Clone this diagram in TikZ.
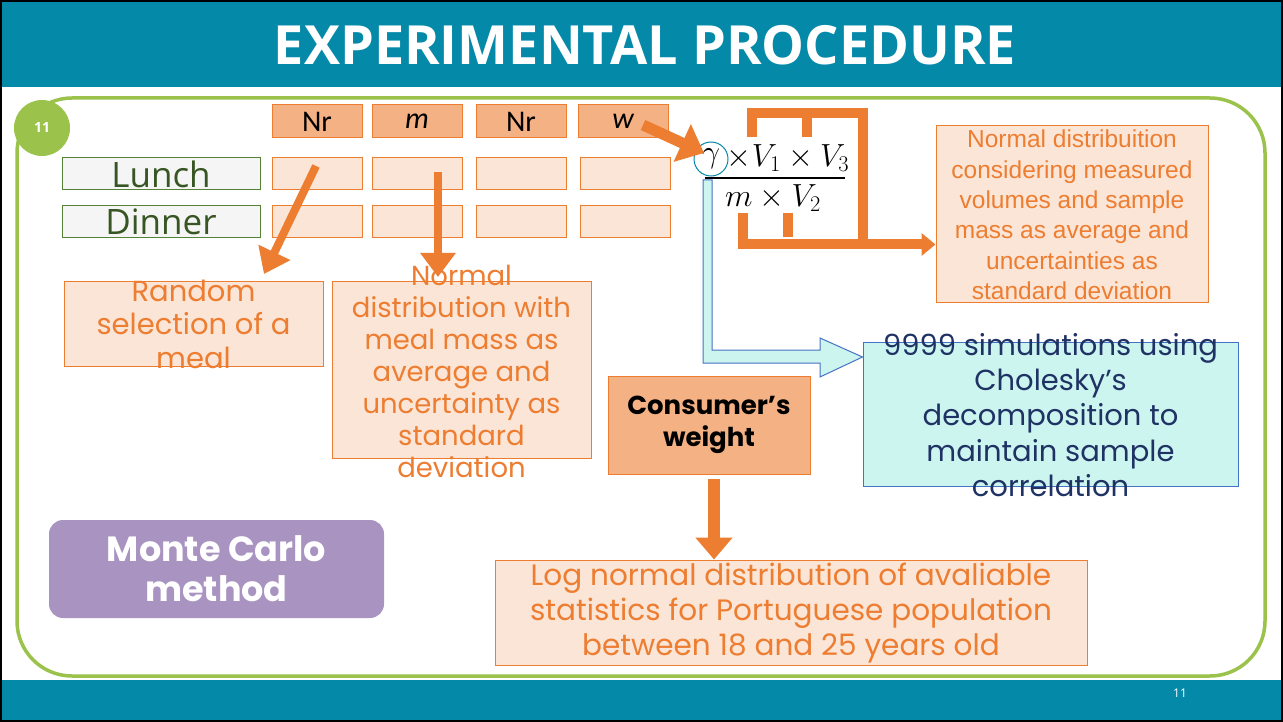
\RequirePackage{fix-cm}
\documentclass[tikz,border=0pt]{standalone}
\usepackage{fontspec}
\usetikzlibrary{arrows.meta,calc}
\newfontfamily\pop{Poppins}
\newfontfamily\osans{Open Sans}
\newfontfamily\carl{Carlito}
\newfontfamily\lib{Liberation Sans}
\definecolor{teal}{RGB}{5,137,168}
\definecolor{lgreen}{RGB}{155,195,75}
\definecolor{dgreen}{RGB}{84,130,53}
\definecolor{tgreen}{RGB}{55,86,35}
\definecolor{orng}{RGB}{237,125,49}
\definecolor{orngL}{RGB}{251,229,214}
\definecolor{orngM}{RGB}{244,177,131}
\definecolor{purp}{RGB}{169,148,193}
\definecolor{cyanL}{RGB}{205,245,240}
\definecolor{blueB}{RGB}{68,114,196}
\definecolor{navy}{RGB}{31,50,100}
\begin{document}
\begin{tikzpicture}[x=1pt,y=-1pt,
  hdr/.style={draw=orng,fill=orngM,line width=1pt,minimum width=90pt,minimum height=33pt,inner sep=0pt,font=\carl\fontsize{30}{32}\selectfont},
  cell/.style={draw=orng,fill=orngL,line width=1pt,minimum width=90pt,minimum height=32pt,inner sep=0pt},
  lbl/.style={draw=dgreen,fill=black!4,line width=1pt,minimum width=198pt,minimum height=32pt,inner sep=0pt,text=tgreen,font=\osans\fontsize{35}{36}\selectfont},
  obox/.style={draw=orng,fill=orngL,line width=1pt,inner sep=0pt},
  otext/.style={inner sep=0pt,text=orng,align=center},
  oarrow/.style={draw=orng,line width=8pt,-{Triangle[length=24pt,width=34pt]}},
  brk/.style={draw=orng,line width=10pt},
]
\useasboundingbox (0,0) rectangle (1283,722);
\fill[white] (0,0) rectangle (1283,722);
\fill[teal] (0,0) rectangle (1283,87);
\fill[teal] (0,680) rectangle (1283,722);
\draw[black,line width=2pt] (1,1) rectangle (1282,721);
\node[text=white,font=\osans\bfseries\fontsize{54}{60}\selectfont] (title) at (645,45) {EXPERIMENTAL PROCEDURE};
\node[text=white,font=\osans\fontsize{12}{14}\selectfont] (pg) at (1180,693) {11};

\draw[lgreen,line width=3.5pt,rounded corners=55pt] (17,98) rectangle (1265,676);
\node[circle,fill=lgreen,minimum size=56pt,inner sep=0pt,text=white,font=\osans\bfseries\fontsize{14}{16}\selectfont] (num) at (42,128) {11};

% header row
\node[hdr] (h1) at (317,121.5) {Nr};
\node[hdr] (h2) at (417,121.5) {\itshape m};
\node[hdr] (h3) at (521,121.5) {Nr};
\node[hdr] (h4) at (623,121.5) {\itshape w};
% rows
\node[lbl] (lunch) at (161,174) {Lunch};
\node[lbl] (dinner) at (161,222) {Dinner};
\node[cell] (l1) at (317,174) {};
\node[cell] (l2) at (417,174) {};
\node[cell] (l3) at (521,174) {};
\node[cell] (l4) at (625,174) {};
\node[cell] (d1) at (317,222) {};
\node[cell] (d2) at (417,222) {};
\node[cell] (d3) at (521,222) {};
\node[cell] (d4) at (625,222) {};

% boxes (box drawn first, text laid over it so that it may overflow)
\node[obox,minimum width=259pt,minimum height=84pt] (rand) at (193.5,324) {};
\node[otext,font=\pop\fontsize{29}{33.5}\selectfont] (randt) at (193.5,324) {Random\\selection of a\\meal};
\node[obox,minimum width=259pt,minimum height=176pt] (norm) at (461.5,370) {};
\node[otext,font=\pop\fontsize{27.5}{32}\selectfont] (normt) at (461.5,371) {Normal\\distribution with\\meal mass as\\average and\\uncertainty as\\standard\\deviation};
\node[obox,minimum width=272pt,minimum height=177pt] (normv) at (1072,214) {};
\node[otext,font=\lib\fontsize{24.5}{30.4}\selectfont] (normvt) at (1072,215) {Normal distribuition\\considering measured\\volumes and sample\\mass as average and\\uncertainties as\\standard deviation};
\node[draw=blueB,fill=cyanL,line width=1pt,minimum width=375pt,minimum height=144pt,inner sep=0pt] (sim) at (1050.5,414) {};
\node[inner sep=0pt,text=navy,align=center,font=\pop\fontsize{29}{35.3}\selectfont] (simt) at (1050.5,415) {9999 simulations using\\Cholesky’s\\decomposition to\\maintain sample\\correlation};
\node[draw=orng,fill=orngM,line width=1pt,minimum width=202pt,minimum height=98pt,inner sep=0pt,align=center,font=\pop\bfseries\fontsize{26}{32}\selectfont] (cw) at (709,425) {Consumer’s\\weight};
\node[obox,minimum width=592pt,minimum height=105pt] (logn) at (791,612.5) {};
\node[otext,font=\pop\fontsize{29.5}{35}\selectfont] (lognt) at (791,613) {Log normal distribution of avaliable\\statistics for Portuguese population\\between 18 and 25 years old};
\node[fill=purp,rounded corners=14pt,minimum width=335pt,minimum height=98pt,inner sep=0pt,text=white,align=center,font=\pop\bfseries\fontsize{35}{40}\selectfont] (mc) at (216.5,569) {Monte Carlo\\method};

% formula
\node[circle,draw=teal,line width=1pt,minimum size=34pt,inner sep=0pt,font=\fontsize{32}{34}\selectfont] (gam) at (711,159) {$\gamma$};
\node[inner sep=0pt,font=\fontsize{32}{34}\selectfont] (numer) at (788,158) {$\times V_1\times V_3$};
\node[inner sep=0pt,font=\fontsize{32}{34}\selectfont] (denom) at (773,198) {$m\times V_2$};
\coordinate (fl) at (705,178);
\coordinate (fr) at (845,178);
\draw[black,line width=1.5pt] (fl) -- (fr);

% orange brackets
\draw[brk,line join=miter] (752,137) -- (752,113.5) -- (863,113.5) -- (863,240);
\draw[brk] (807,113.5) -- (807,137);
\draw[brk] (787.5,213) -- (787.5,237);
\coordinate (bstart) at (743,213);
\draw[brk,line join=miter,-{Triangle[length=14pt,width=22pt]}] (bstart) -- (743,244.5) -- (normv.west|-743,244.5);

% orange arrows
\coordinate (s1) at (316,166);
\coordinate (e1) at (264,274);
\draw[oarrow] (s1) -- (e1);
\coordinate (s2) at (438,172);
\coordinate (e2) at (438,277);
\draw[oarrow] (s2) -- (e2);
\coordinate (s3) at (643,125);
\coordinate (e3) at (704,153);
\draw[draw=orng,line width=11pt,-{Triangle[length=24pt,width=40pt]}] (s3) -- (e3);
\draw[draw=orng,line width=12pt,-{Triangle[length=22pt,width=36pt]}] (cw.south -| 714,0) ++(0,4) -- (logn.north -| 714,0);

% blue block arrow
\draw[draw=blueB,fill=cyanL,line width=1pt] (703,180) -- (712,180) -- (712,350) -- (820,350) -- (820,338) -- (sim.west|-0,357) -- (820,377) -- (820,363) -- (703,363) -- cycle;
\end{tikzpicture}
\end{document}
